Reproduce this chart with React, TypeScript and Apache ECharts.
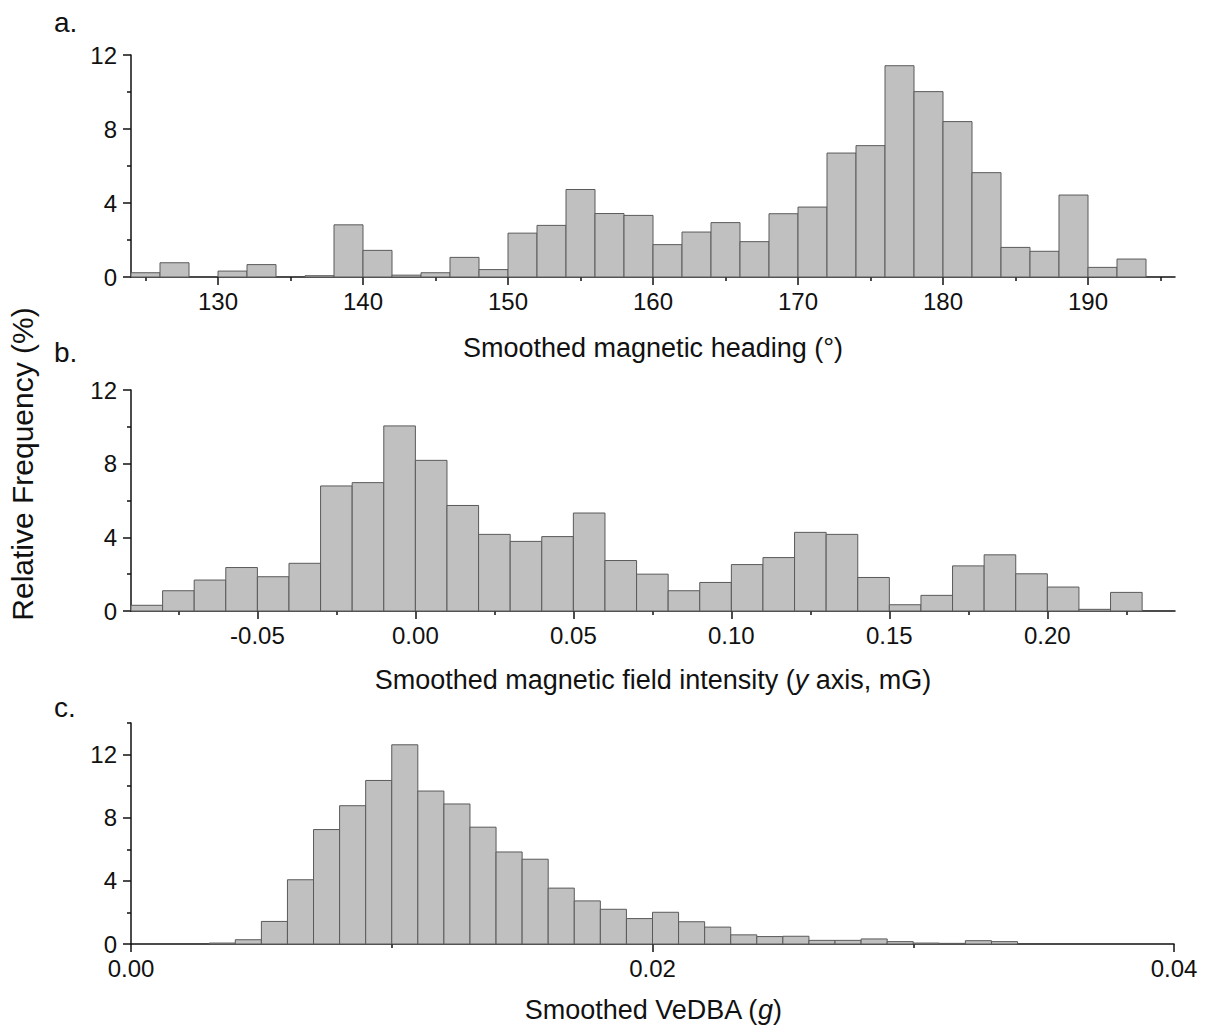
import React, { useEffect, useRef } from "react";
import * as echarts from "echarts";

// ---- Data (relative frequency, %) ----
const headingBinStart = 124;
const headingBinWidth = 2;
const headingFreq = [
  0.23, 0.77, 0, 0.32, 0.67, 0, 0.07, 2.82, 1.44, 0.1, 0.23, 1.06, 0.4, 2.37, 2.79, 4.73, 3.43, 3.33,
  1.75, 2.43, 2.94, 1.91, 3.42, 3.78, 6.7, 7.1, 11.42, 10.02, 8.4, 5.64, 1.6, 1.39, 4.43, 0.52, 0.97,
];

const fieldBinStart = -0.09;
const fieldBinWidth = 0.01;
const fieldFreq = [
  0.31, 1.1, 1.68, 2.36, 1.86, 2.59, 6.79, 6.97, 10.05, 8.18, 5.73, 4.16, 3.78, 4.04, 5.32, 2.74,
  2.0, 1.1, 1.55, 2.52, 2.9, 4.27, 4.16, 1.82, 0.34, 0.85, 2.45, 3.05, 2.02, 1.3, 0.09, 1.01,
];

const vedbaBinStart = 0.003;
const vedbaBinWidth = 0.001;
const vedbaFreq = [
  0.06, 0.27, 1.43, 4.07, 7.25, 8.76, 10.36, 12.62, 9.69, 8.87, 7.4, 5.83, 5.37, 3.54, 2.73, 2.2,
  1.61, 2.01, 1.41, 1.07, 0.58, 0.47, 0.49, 0.23, 0.23, 0.32, 0.15, 0.06, 0.04, 0.21, 0.15,
];

// ---- Tick labels ----
const headingMajorTicks = [130, 140, 150, 160, 170, 180, 190];
const headingMinorTicks = [125, 135, 145, 155, 165, 175, 185, 195];
const fieldMajorTicks = [-0.05, 0, 0.05, 0.1, 0.15, 0.2];
const fieldMinorTicks = [-0.075, -0.025, 0.025, 0.075, 0.125, 0.175, 0.225];
const vedbaMajorTicks = [0, 0.02, 0.04];
const vedbaMinorTicks = [0.01, 0.03];
const freqMajorTicks = [0, 4, 8, 12];
const freqMinorTicksAB = [2, 6, 10];
const freqMinorTicksC = [2, 6, 10, 14];

const panelLetters = ["a.", "b.", "c."];
const yTitle = "Relative Frequency (%)";

const FONT = "'Liberation Sans', Arial, Helvetica, sans-serif";
const FS = 24;
const TITLE_FS = 27;

function bins(start: number, width: number, freq: number[]) {
  const out: number[][] = [];
  freq.forEach((v, i) => {
    if (v > 0) out.push([start + i * width, start + (i + 1) * width, v]);
  });
  return out;
}

export default function App() {
  const ref = useRef<HTMLDivElement>(null);

  useEffect(() => {
    if (!ref.current) return;
    const chart = echarts.init(ref.current, undefined, { renderer: "svg" });

    const grids = [
      { left: 131, top: 55, width: 1044, height: 222 },
      { left: 131, top: 390, width: 1044, height: 221 },
      { left: 131, top: 723, width: 1043, height: 221 },
    ];
    const xRanges = [
      [124, 196],
      [-0.09, 0.2404],
      [0, 0.04],
    ];
    const yMax = [12, 12, 14];
    const xMajors = [headingMajorTicks, fieldMajorTicks, vedbaMajorTicks];
    const xMinors = [headingMinorTicks, fieldMinorTicks, vedbaMinorTicks];
    const yMinors = [freqMinorTicksAB, freqMinorTicksAB, freqMinorTicksC];
    const xFmt = [
      (v: number) => String(Math.round(v)),
      (v: number) => v.toFixed(2),
      (v: number) => v.toFixed(2),
    ];
    const data = [
      bins(headingBinStart, headingBinWidth, headingFreq),
      bins(fieldBinStart, fieldBinWidth, fieldFreq),
      bins(vedbaBinStart, vedbaBinWidth, vedbaFreq),
    ];

    const axisLineStyle = { color: "#111", width: 1.5 };
    const labelStyle = { color: "#111", fontSize: FS, fontFamily: FONT };

    const xAxis: any[] = [];
    const yAxis: any[] = [];
    const series: any[] = [];

    for (let i = 0; i < 3; i++) {
      xAxis.push({
        type: "value",
        gridIndex: i,
        min: xRanges[i][0],
        max: xRanges[i][1],
        position: "bottom",
        axisLine: { show: true, onZero: false, lineStyle: axisLineStyle },
        axisTick: { show: true, inside: false, length: 8, customValues: xMajors[i], lineStyle: axisLineStyle },
        axisLabel: { show: true, margin: 12, customValues: xMajors[i], formatter: xFmt[i], ...labelStyle },
        splitLine: { show: false },
      });
      xAxis.push({
        type: "value",
        gridIndex: i,
        min: xRanges[i][0],
        max: xRanges[i][1],
        position: "bottom",
        axisLine: { show: false, onZero: false },
        axisTick: { show: true, inside: false, length: 4, customValues: xMinors[i], lineStyle: axisLineStyle },
        axisLabel: { show: false },
        splitLine: { show: false },
      });
      yAxis.push({
        type: "value",
        gridIndex: i,
        min: 0,
        max: yMax[i],
        position: "left",
        axisLine: { show: true, onZero: false, lineStyle: axisLineStyle },
        axisTick: { show: true, inside: false, length: 8, customValues: freqMajorTicks, lineStyle: axisLineStyle },
        axisLabel: { show: true, margin: 14, customValues: freqMajorTicks, ...labelStyle },
        splitLine: { show: false },
      });
      yAxis.push({
        type: "value",
        gridIndex: i,
        min: 0,
        max: yMax[i],
        position: "left",
        offset: 0,
        axisLine: { show: false, onZero: false },
        axisTick: { show: true, inside: false, length: 4, customValues: yMinors[i], lineStyle: axisLineStyle },
        axisLabel: { show: false },
        splitLine: { show: false },
      });
      series.push({
        type: "custom",
        xAxisIndex: 2 * i,
        yAxisIndex: 2 * i,
        data: data[i],
        encode: { x: [0, 1], y: 2 },
        renderItem: (_params: any, api: any) => {
          const p0 = api.coord([api.value(0), api.value(2)]);
          const p1 = api.coord([api.value(1), 0]);
          return {
            type: "rect",
            shape: { x: p0[0], y: p0[1], width: p1[0] - p0[0], height: p1[1] - p0[1] },
            style: { fill: "#c0c0c0", stroke: "#5a5a5a", lineWidth: 1 },
          };
        },
      });
    }

    const base = { fontSize: TITLE_FS, fontFamily: FONT, fill: "#111" };
    const italic = { ...base, fontStyle: "italic" };

    const titleText = (x: number, y: number, text: string, rich?: any) => ({
      type: "text",
      x,
      y,
      style: { text, ...base, align: "center", verticalAlign: "middle", rich },
    });

    const letter = (y: number, text: string) => ({
      type: "text",
      x: 54,
      y,
      style: { text, ...base, fontSize: 28, align: "left", verticalAlign: "middle" },
    });

    const graphic: any[] = [
      letter(22, panelLetters[0]),
      letter(352, panelLetters[1]),
      letter(707, panelLetters[2]),
      titleText(653, 348, "Smoothed magnetic heading (°)"),
      titleText(653, 680, "{n|Smoothed magnetic field intensity (}{i|y}{n| axis, mG)}", { n: base, i: italic }),
      titleText(653, 1010, "{n|Smoothed VeDBA (}{i|g}{n|)}", { n: base, i: italic }),
      {
        type: "text",
        x: 22,
        y: 464,
        rotation: Math.PI / 2,
        style: { text: yTitle, ...base, fontSize: 30, align: "center", verticalAlign: "middle" },
      },
    ];

    chart.setOption({
      animation: false,
      backgroundColor: "#fff",
      grid: grids,
      xAxis,
      yAxis,
      series,
      graphic,
    });

    return () => chart.dispose();
  }, []);

  return (
    <div
      ref={ref}
      style={{ position: "absolute", left: 0, top: 0, width: 1210, height: 1027, background: "#fff" }}
    />
  );
}
